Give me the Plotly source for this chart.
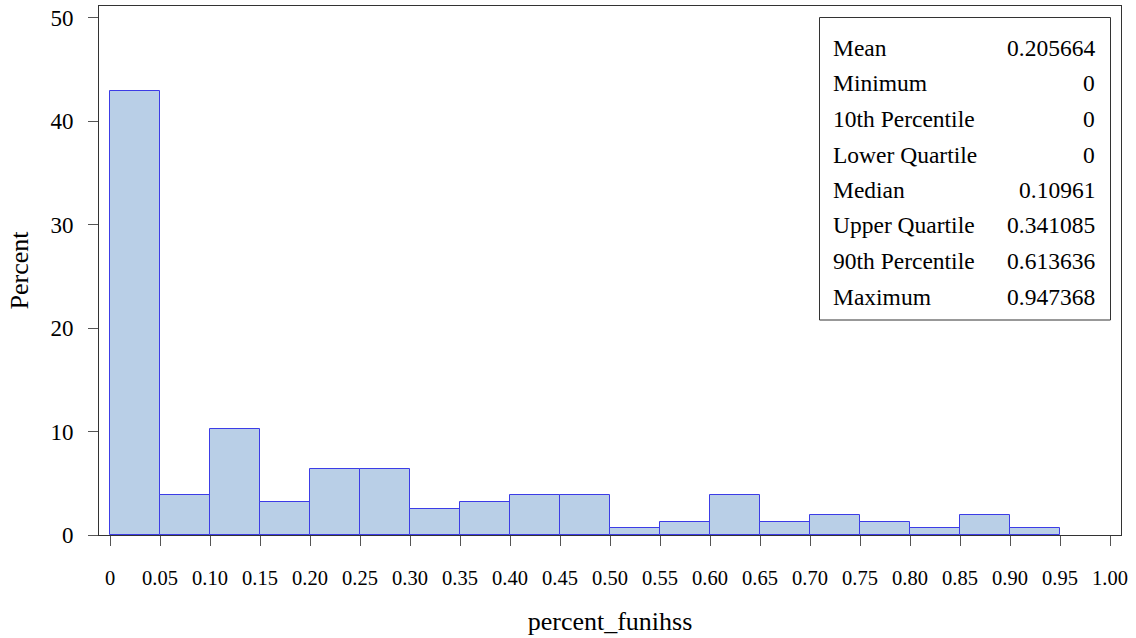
import plotly.graph_objects as go

# Histogram bins of percent_funihss (bin width 0.05)
bin_left = [0.00, 0.05, 0.10, 0.15, 0.20, 0.25, 0.30, 0.35, 0.40, 0.45,
            0.50, 0.55, 0.60, 0.65, 0.70, 0.75, 0.80, 0.85, 0.90]
percent = [42.95, 3.85, 10.26, 3.21, 6.41, 6.41, 2.56, 3.21, 3.85, 3.85,
           0.64, 1.28, 3.85, 1.28, 1.92, 1.28, 0.64, 1.92, 0.64]
bin_width = 0.05

x_tickvals = [0.00, 0.05, 0.10, 0.15, 0.20, 0.25, 0.30, 0.35, 0.40, 0.45, 0.50,
              0.55, 0.60, 0.65, 0.70, 0.75, 0.80, 0.85, 0.90, 0.95, 1.00]
x_ticktext = ["0", "0.05", "0.10", "0.15", "0.20", "0.25", "0.30", "0.35", "0.40",
              "0.45", "0.50", "0.55", "0.60", "0.65", "0.70", "0.75", "0.80",
              "0.85", "0.90", "0.95", "1.00"]
y_tickvals = [0, 10, 20, 30, 40, 50]

# Summary statistics shown in the inset table
stat_names = ["Mean", "Minimum", "10th Percentile", "Lower Quartile", "Median",
              "Upper Quartile", "90th Percentile", "Maximum"]
stat_values = ["0.205664", "0", "0", "0", "0.10961", "0.341085", "0.613636", "0.947368"]

FONT = "Liberation Serif"
W, H = 1136, 638
L, R, T, B = 99, 15, 6, 103
PW, PH = W - L - R, H - T - B


def px_x(p):
    return (p - L) / PW


def px_y(p):
    return (H - B - p) / PH


fig = go.Figure()
fig.add_trace(go.Bar(
    x=[b + bin_width / 2 for b in bin_left],
    y=percent,
    width=bin_width,
    marker=dict(color="#B9CFE7", line=dict(color="#3C3CE6", width=1)),
    hoverinfo="x+y",
    showlegend=False,
))

# Inset statistics table
fig.add_shape(type="rect", xref="paper", yref="paper",
              x0=px_x(819.5), x1=px_x(1110.5), y0=px_y(320), y1=px_y(17.5),
              line=dict(color="#333333", width=1), fillcolor="white", layer="above")
row_y = [47.7, 83.3, 119.3, 155.0, 190.3, 225.5, 261.0, 296.7]
for name, val, ry in zip(stat_names, stat_values, row_y):
    fig.add_annotation(xref="paper", yref="paper", x=px_x(831), y=px_y(ry),
                       text=name, showarrow=False, xanchor="left", yanchor="middle",
                       font=dict(family=FONT, size=23.5, color="black"))
    fig.add_annotation(xref="paper", yref="paper", x=px_x(1097), y=px_y(ry),
                       text=val, showarrow=False, xanchor="right", yanchor="middle",
                       font=dict(family=FONT, size=23.5, color="black"))

fig.update_layout(
    width=W, height=H,
    margin=dict(l=L, r=R, t=T, b=B),
    paper_bgcolor="white", plot_bgcolor="white",
    bargap=0,
    font=dict(family=FONT, color="black"),
    xaxis=dict(
        range=[-0.011, 1.011],
        tickmode="array", tickvals=x_tickvals, ticktext=x_ticktext,
        ticks="outside", ticklen=10, tickcolor="#555555", tickwidth=1,
        showline=True, linecolor="#333333", linewidth=1, mirror=True,
        showgrid=False, zeroline=False,
        tickfont=dict(family=FONT, size=20.5, color="black"),
        ticklabelstandoff=14,
        title=dict(text="percent_funihss", standoff=24,
                   font=dict(family=FONT, size=26, color="black")),
    ),
    yaxis=dict(
        range=[0, 51.13],
        tickmode="array", tickvals=y_tickvals,
        ticks="outside", ticklen=10, tickcolor="#555555", tickwidth=1,
        showline=True, linecolor="#333333", linewidth=1, mirror=True,
        showgrid=False, zeroline=False,
        tickfont=dict(family=FONT, size=23, color="black"),
        ticklabelstandoff=10,
        title=dict(text="Percent", standoff=14,
                   font=dict(family=FONT, size=26, color="black")),
    ),
)

fig.write_html("out.html")
